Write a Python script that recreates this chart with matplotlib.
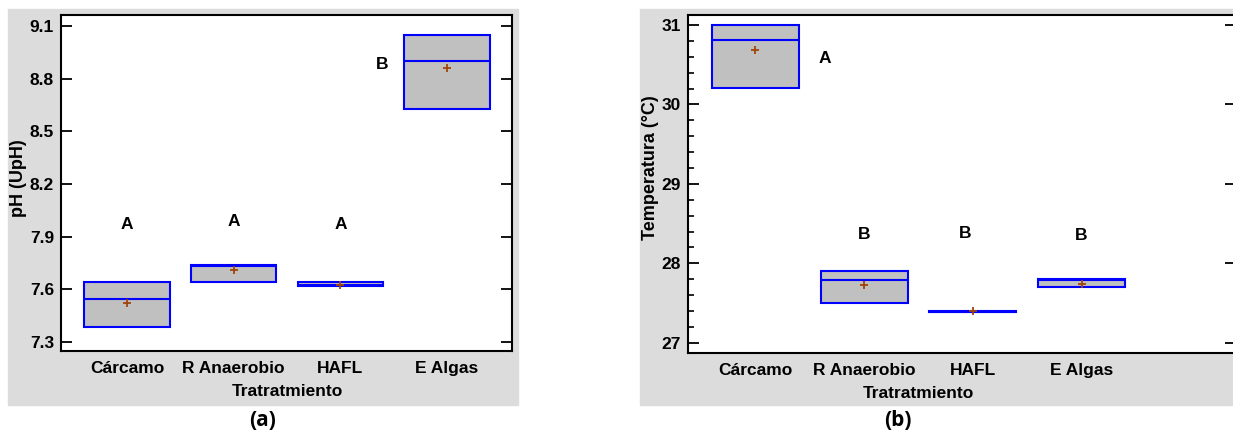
import matplotlib.pyplot as plt
from matplotlib.patches import Rectangle

# tratamientos
categorias = ['Cárcamo', 'R Anaerobio', 'HAFL', 'E Algas']

# pH (UpH): cuartiles, mediana y media
ph_q1 = [7.385, 7.643, 7.621, 8.625]
ph_med = [7.547, 7.735, 7.623, 8.90]
ph_q3 = [7.643, 7.739, 7.643, 9.047]
ph_media = [7.522, 7.708, 7.626, 8.859]
ph_letras = ['A', 'A', 'A', 'B']
ph_letras_x = [0, 1, 2, 2.39]
ph_letras_y = [7.972, 7.985, 7.972, 8.88]
ph_ticks = [7.3, 7.6, 7.9, 8.2, 8.5, 8.8, 9.1]

# Temperatura (°C)
t_q1 = [30.21, 27.5, 27.39, 27.70]
t_med = [30.81, 27.79, 27.39, 27.79]
t_q3 = [31.0, 27.9, 27.40, 27.80]
t_media = [30.68, 27.73, 27.40, 27.74]
t_letras = ['A', 'B', 'B', 'B']
t_letras_x = [0.64, 1, 1.93, 3]
t_letras_y = [30.58, 28.36, 28.38, 28.35]
t_ticks = [27, 28, 29, 30, 31]

azul = '#0000ff'
cafe = '#a0440a'
gris = '#dcdcdc'
fuente = 'Liberation Sans'

fig = plt.figure(figsize=(12.33, 4.36), dpi=100)
fig.patches.append(Rectangle((0.0065, 0.071), 0.4136, 0.908, transform=fig.transFigure,
                             color=gris, zorder=-5))
fig.patches.append(Rectangle((0.519, 0.071), 0.49, 0.908, transform=fig.transFigure,
                             color=gris, zorder=-5))

ax1 = fig.add_axes([0.0495, 0.195, 0.3657, 0.7706], zorder=2)
ax2 = fig.add_axes([0.558, 0.190, 0.4444, 0.7756], zorder=2)


def cajas(ax, q1, med, q3, media):
    stats = []
    for i in range(len(categorias)):
        stats.append({'q1': q1[i], 'med': med[i], 'q3': q3[i], 'mean': media[i],
                      'whislo': q1[i], 'whishi': q3[i], 'fliers': []})
    ax.bxp(stats, positions=range(len(categorias)), widths=0.8, patch_artist=True,
           showmeans=True, showcaps=False,
           boxprops=dict(facecolor='#c0c0c0', edgecolor=azul, linewidth=1.5),
           medianprops=dict(color=azul, linewidth=1.5),
           whiskerprops=dict(color=azul, linewidth=1.5),
           meanprops=dict(marker='+', markeredgecolor=cafe, markersize=6,
                          markeredgewidth=1.3))


def estilo(ax, ylabel, y_label_pos, y_xlabel):
    ax.set_facecolor('white')
    ax.set_xticks(range(len(categorias)))
    ax.set_xticklabels(categorias)
    for lab in ax.get_xticklabels() + ax.get_yticklabels():
        lab.set_fontfamily(fuente)
        lab.set_fontweight('bold')
        lab.set_fontsize(12.5)
    ax.tick_params(axis='x', length=0, pad=7)
    ax.tick_params(axis='y', which='major', direction='in', length=8, width=1.3,
                   right=True, pad=5)
    ax.set_ylabel(ylabel, fontfamily=fuente, fontweight='bold', fontsize=13, labelpad=2)
    ax.yaxis.label.set_y(y_label_pos)
    ax.text(1.5, y_xlabel, 'Tratratmiento', transform=ax.get_xaxis_transform(),
            ha='center', va='center', fontfamily=fuente, fontweight='bold', fontsize=12.5)
    for s in ax.spines.values():
        s.set_linewidth(1.5)


# (a) pH
cajas(ax1, ph_q1, ph_med, ph_q3, ph_media)
ax1.set_xlim(-0.62, 3.61)
ax1.set_ylim(7.249, 9.163)
ax1.set_yticks(ph_ticks)
ax1.set_yticklabels([f'{v:.1f}' for v in ph_ticks])
estilo(ax1, 'pH (UpH)', 0.515, -0.122)
for x, y, t in zip(ph_letras_x, ph_letras_y, ph_letras):
    ax1.text(x, y, t, ha='center', va='center', fontfamily=fuente,
             fontweight='bold', fontsize=12.5)

# (b) temperatura
cajas(ax2, t_q1, t_med, t_q3, t_media)
ax2.set_xlim(-0.62, 4.42)
ax2.set_ylim(26.87, 31.126)
ax2.set_yticks(t_ticks)
ax2.set_yticklabels([str(v) for v in t_ticks])
ax2.set_yticks([v / 10 for v in range(270, 312, 2) if v % 10 != 0], minor=True)
estilo(ax2, 'Temperatura (°C)', 0.55, -0.118)
ax2.tick_params(axis='y', which='minor', direction='in', length=4, width=1.2)
for x, y, t in zip(t_letras_x, t_letras_y, t_letras):
    ax2.text(x, y, t, ha='center', va='center', fontfamily=fuente,
             fontweight='bold', fontsize=12.5)

fig.text(0.213, 0.035, '(a)', ha='center', va='center', fontfamily='Open Sans',
         fontweight='bold', fontsize=15)
fig.text(0.728, 0.035, '(b)', ha='center', va='center', fontfamily='Open Sans',
         fontweight='bold', fontsize=15)

fig.savefig('out.png', dpi=100)
